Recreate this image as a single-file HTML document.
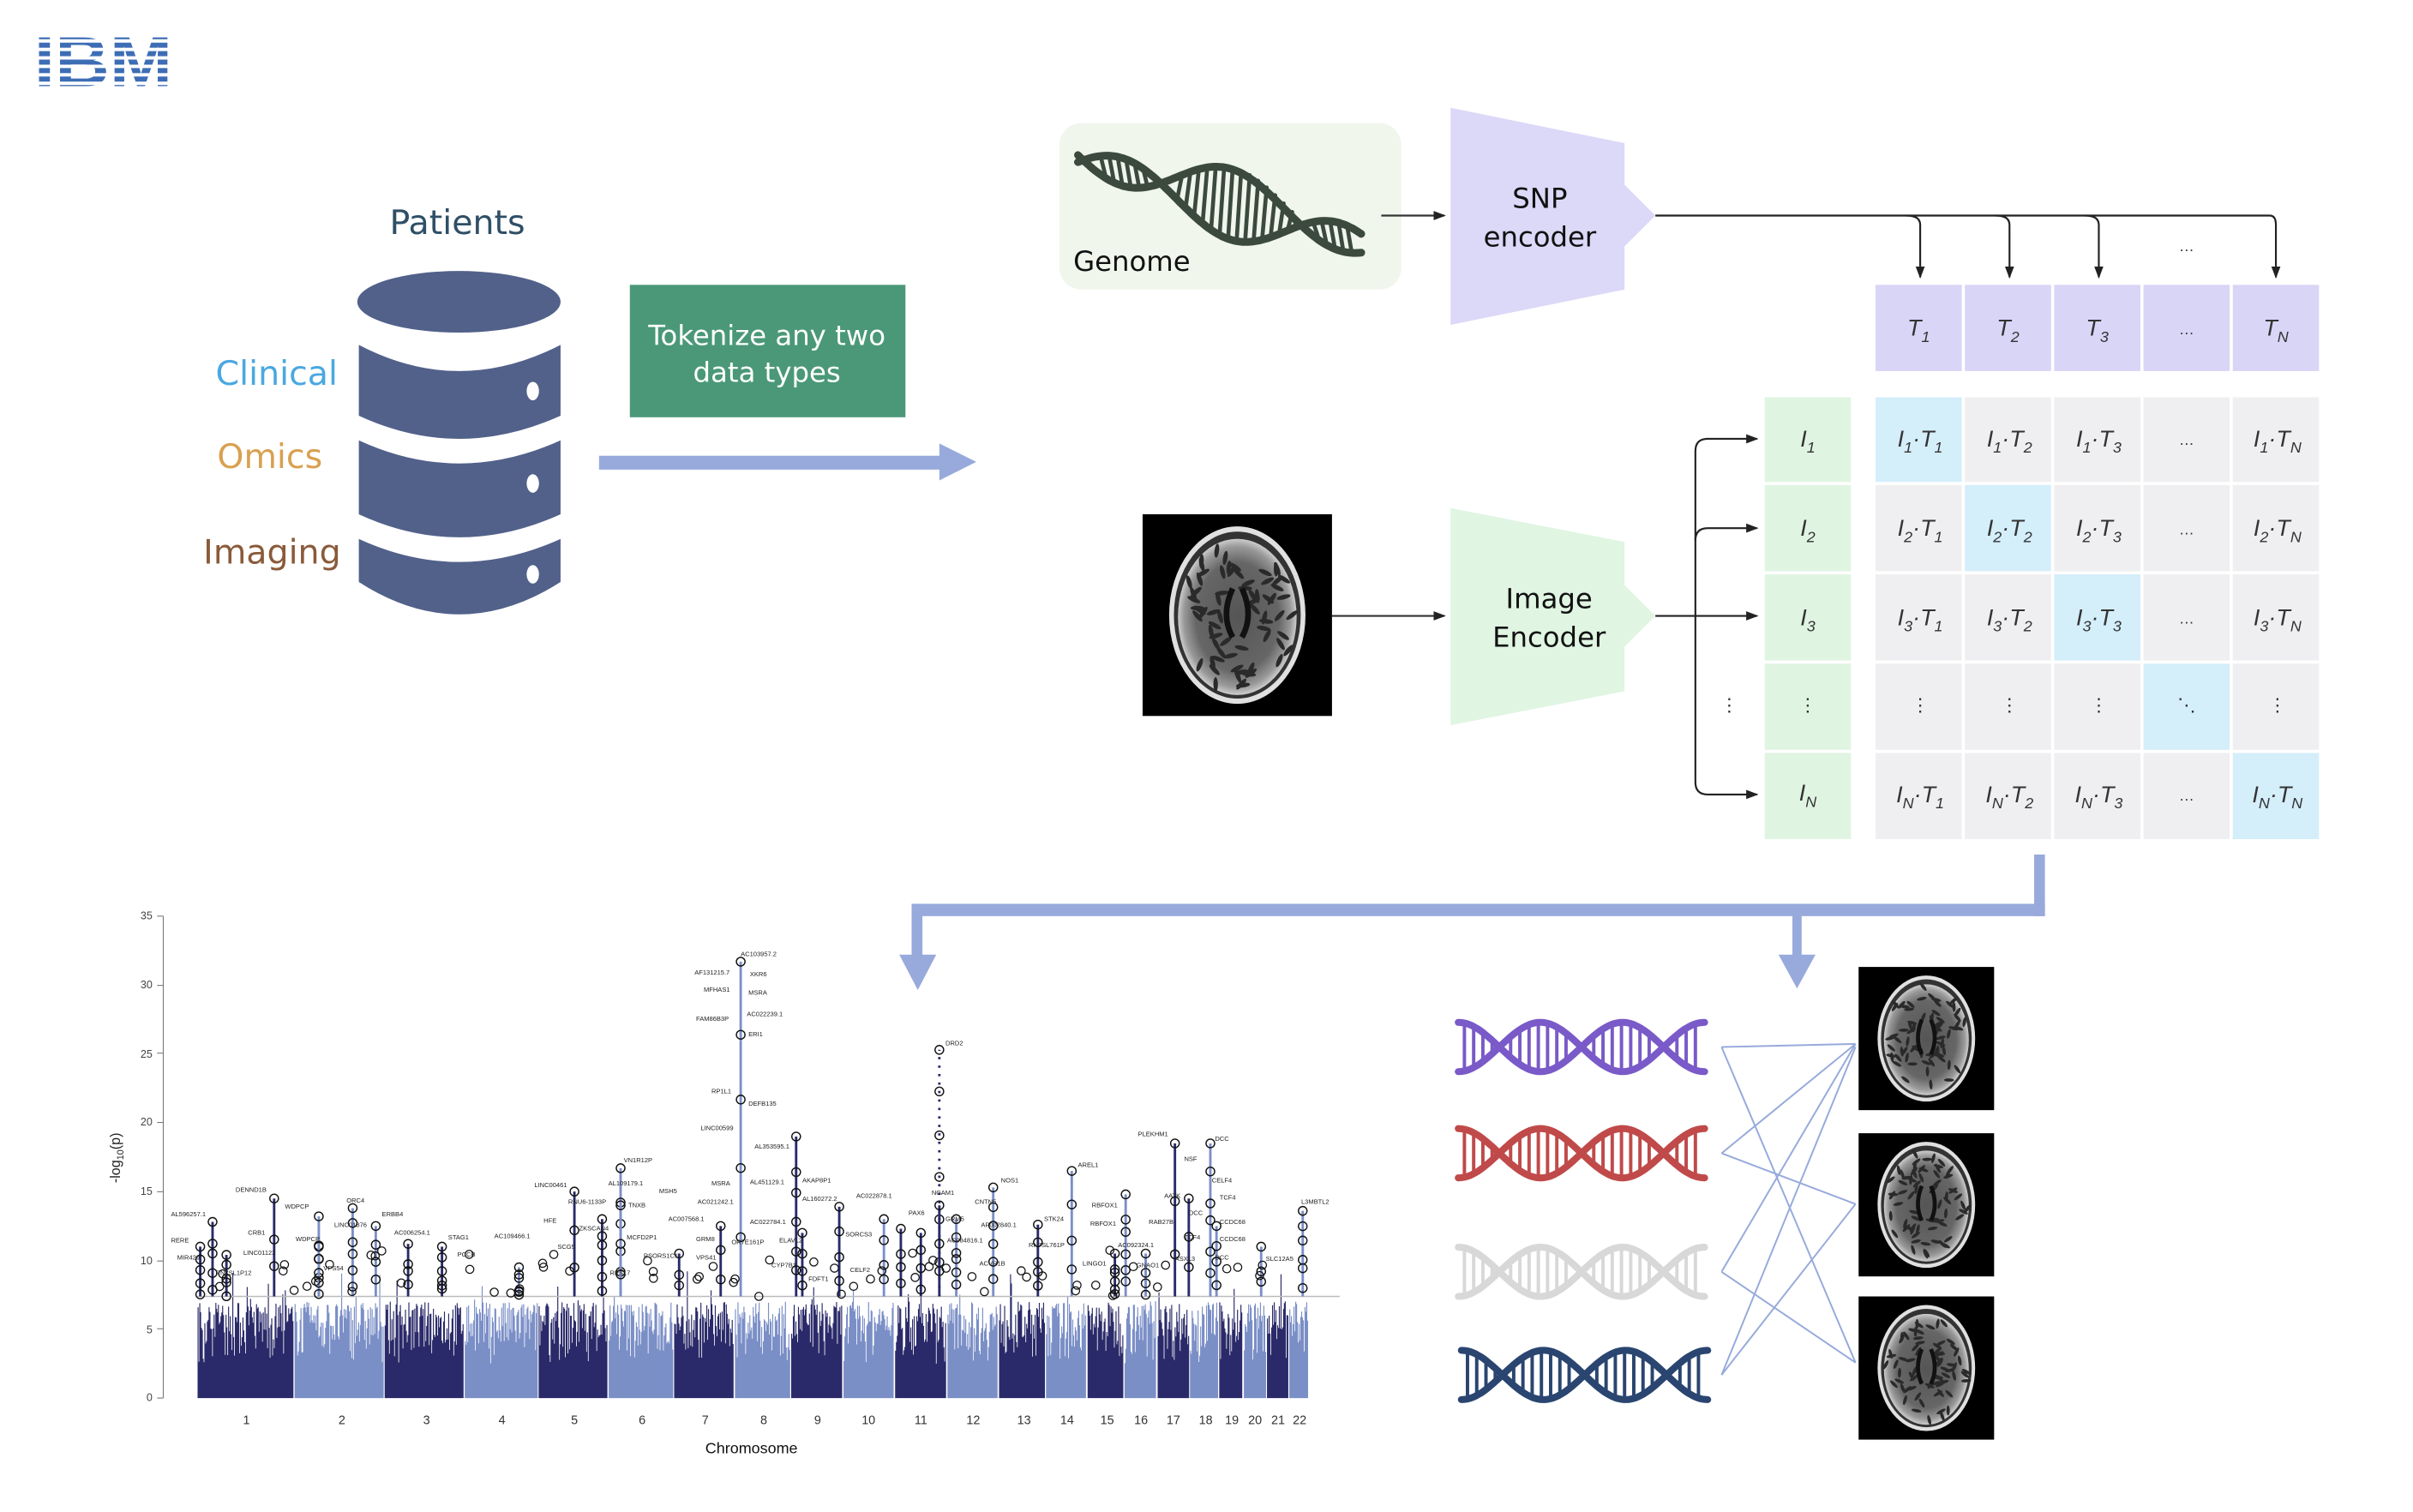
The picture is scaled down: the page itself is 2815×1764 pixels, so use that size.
<!DOCTYPE html>
<html><head><meta charset="utf-8">
<style>
html,body{margin:0;padding:0;background:#fff;}
svg{display:block;}
text{font-family:"Liberation Sans",sans-serif;}
.cal{font-family:"DejaVu Sans","Liberation Sans",sans-serif;}
.m{font-family:"Liberation Serif",serif;font-style:italic;font-size:15px;fill:#333;}
.g{font-size:4.2px;fill:#222;}
</style></head>
<body>
<svg id="s" width="2815" height="1764" viewBox="0 0 1567 982" xmlns="http://www.w3.org/2000/svg">
<defs>
<marker id="ah" markerWidth="8" markerHeight="8" refX="7" refY="4" orient="auto" markerUnits="userSpaceOnUse"><path d="M0,1 L8,4 L0,7 z" fill="#222"/></marker>
<radialGradient id="br" cx="50%" cy="50%" r="50%"><stop offset="0" stop-color="#555"/><stop offset="0.7" stop-color="#666"/><stop offset="0.9" stop-color="#999"/><stop offset="1" stop-color="#ccc"/></radialGradient>
</defs>

<!-- IBM logo -->
<text x="22" y="56" font-family="Liberation Serif,serif" font-weight="bold" font-size="46" fill="#3d6db5" textLength="90" lengthAdjust="spacingAndGlyphs">IBM</text>
<g fill="#fff"><rect x="18" y="25.5" width="100" height="2.2"/><rect x="18" y="31" width="100" height="2.2"/><rect x="18" y="36.5" width="100" height="2.2"/><rect x="18" y="42" width="100" height="2.2"/><rect x="18" y="47.5" width="100" height="2.2"/><rect x="18" y="53" width="100" height="2.2"/></g>

<!-- Patients -->
<text x="297" y="152" text-anchor="middle" font-size="22" fill="#2f4f66" class="cal">Patients</text>
<g fill="#52618a">
<ellipse cx="298" cy="196" rx="66" ry="20"/>
<path d="M233,224 Q298,258 364,224 L364,270 Q298,300 233,270 Z"/>
<path d="M233,286 Q298,316 364,286 L364,334 Q298,364 233,334 Z"/>
<path d="M233,350 Q298,380 364,350 L364,378 Q298,420 233,378 Z"/>
</g>
<g fill="#fff"><ellipse cx="346" cy="254" rx="4" ry="6"/><ellipse cx="346" cy="314" rx="4" ry="6"/><ellipse cx="346" cy="373" rx="4" ry="6"/></g>
<text x="140" y="250" font-size="22" fill="#4aa8e0" class="cal">Clinical</text>
<text x="141" y="304" font-size="22" fill="#d9a050" class="cal">Omics</text>
<text x="132" y="366" font-size="22" fill="#8a5a3a" class="cal">Imaging</text>

<rect x="409" y="185" width="179" height="86" fill="#4a9878"/>
<text x="498" y="224" text-anchor="middle" font-size="18" fill="#fff" class="cal">Tokenize any two</text>
<text x="498" y="248" text-anchor="middle" font-size="18" fill="#fff" class="cal">data types</text>
<rect x="389" y="296" width="222" height="9" fill="#97aadb"/>
<path d="M610,288 L634,300 L610,312 Z" fill="#97aadb"/>

<!-- Genome -->
<rect x="688" y="80" width="222" height="108" rx="14" fill="#f0f6ec"/>
<g id="gdna" stroke="#3c4a3e" fill="none" stroke-linecap="round"></g>
<text x="697" y="176" font-size="18" fill="#111" class="cal">Genome</text>
<line x1="897" y1="140" x2="938" y2="140" stroke="#333" stroke-width="1.2" marker-end="url(#ah)"/>

<!-- SNP encoder -->
<path d="M942,70 L1055,93 L1055,120 L1075,140 L1055,160 L1055,188 L942,211 Z" fill="#dcd8f8"/>
<text x="1000" y="135" text-anchor="middle" font-size="18" fill="#111" class="cal">SNP</text>
<text x="1000" y="160" text-anchor="middle" font-size="18" fill="#111" class="cal">encoder</text>
<g stroke="#222" stroke-width="1.2" fill="none">
<path d="M1075,140 L1474,140 Q1478,140 1478,146 L1478,180" marker-end="url(#ah)"/>
<path d="M1238,140 Q1247,140 1247,146 L1247,180" marker-end="url(#ah)"/>
<path d="M1296,140 Q1305,140 1305,146 L1305,180" marker-end="url(#ah)"/>
<path d="M1354,140 Q1363,140 1363,146 L1363,180" marker-end="url(#ah)"/>
</g>
<text x="1420" y="163" text-anchor="middle" font-size="10" fill="#333">…</text>

<!-- T row -->
<g fill="#d9d5f7">
<rect x="1218" y="185" width="56" height="56"/><rect x="1276" y="185" width="56" height="56"/><rect x="1334" y="185" width="56" height="56"/><rect x="1392" y="185" width="56" height="56"/><rect x="1450" y="185" width="56" height="56"/>
</g>
<g class="m" text-anchor="middle">
<text x="1246" y="218">T<tspan font-size="10" dy="4">1</tspan></text>
<text x="1304" y="218">T<tspan font-size="10" dy="4">2</tspan></text>
<text x="1362" y="218">T<tspan font-size="10" dy="4">3</tspan></text>
<text x="1420" y="217" font-style="normal" font-size="10">…</text>
<text x="1478" y="218">T<tspan font-size="10" dy="4">N</tspan></text>
</g>

<!-- I column & matrix -->
<g fill="#e0f4e2">
<rect x="1146" y="258" width="56" height="55"/><rect x="1146" y="315" width="56" height="56"/><rect x="1146" y="373" width="56" height="56"/><rect x="1146" y="431" width="56" height="56"/><rect x="1146" y="489" width="56" height="56"/>
</g>
<g id="mat"></g>
<g class="m" text-anchor="middle">
<text x="1174" y="290">I<tspan font-size="10" dy="4">1</tspan></text>
<text x="1174" y="348">I<tspan font-size="10" dy="4">2</tspan></text>
<text x="1174" y="406">I<tspan font-size="10" dy="4">3</tspan></text>
<text x="1174" y="462" font-style="normal" font-size="12">⋮</text>
<text x="1174" y="520">I<tspan font-size="10" dy="4">N</tspan></text>
<text x="1123" y="462" font-style="normal" font-size="12">⋮</text>

<text x="1247" y="290">I<tspan font-size="10" dy="4">1</tspan><tspan dy="-4">·T</tspan><tspan font-size="10" dy="4">1</tspan></text>
<text x="1305" y="290">I<tspan font-size="10" dy="4">1</tspan><tspan dy="-4">·T</tspan><tspan font-size="10" dy="4">2</tspan></text>
<text x="1363" y="290">I<tspan font-size="10" dy="4">1</tspan><tspan dy="-4">·T</tspan><tspan font-size="10" dy="4">3</tspan></text>
<text x="1420" y="289" font-style="normal" font-size="10">…</text>
<text x="1479" y="290">I<tspan font-size="10" dy="4">1</tspan><tspan dy="-4">·T</tspan><tspan font-size="10" dy="4">N</tspan></text>

<text x="1247" y="348">I<tspan font-size="10" dy="4">2</tspan><tspan dy="-4">·T</tspan><tspan font-size="10" dy="4">1</tspan></text>
<text x="1305" y="348">I<tspan font-size="10" dy="4">2</tspan><tspan dy="-4">·T</tspan><tspan font-size="10" dy="4">2</tspan></text>
<text x="1363" y="348">I<tspan font-size="10" dy="4">2</tspan><tspan dy="-4">·T</tspan><tspan font-size="10" dy="4">3</tspan></text>
<text x="1420" y="347" font-style="normal" font-size="10">…</text>
<text x="1479" y="348">I<tspan font-size="10" dy="4">2</tspan><tspan dy="-4">·T</tspan><tspan font-size="10" dy="4">N</tspan></text>

<text x="1247" y="406">I<tspan font-size="10" dy="4">3</tspan><tspan dy="-4">·T</tspan><tspan font-size="10" dy="4">1</tspan></text>
<text x="1305" y="406">I<tspan font-size="10" dy="4">3</tspan><tspan dy="-4">·T</tspan><tspan font-size="10" dy="4">2</tspan></text>
<text x="1363" y="406">I<tspan font-size="10" dy="4">3</tspan><tspan dy="-4">·T</tspan><tspan font-size="10" dy="4">3</tspan></text>
<text x="1420" y="405" font-style="normal" font-size="10">…</text>
<text x="1479" y="406">I<tspan font-size="10" dy="4">3</tspan><tspan dy="-4">·T</tspan><tspan font-size="10" dy="4">N</tspan></text>

<text x="1247" y="462" font-style="normal" font-size="12">⋮</text>
<text x="1305" y="462" font-style="normal" font-size="12">⋮</text>
<text x="1363" y="462" font-style="normal" font-size="12">⋮</text>
<text x="1420" y="462" font-style="normal" font-size="12">⋱</text>
<text x="1479" y="462" font-style="normal" font-size="12">⋮</text>

<text x="1247" y="521">I<tspan font-size="10" dy="4">N</tspan><tspan dy="-4">·T</tspan><tspan font-size="10" dy="4">1</tspan></text>
<text x="1305" y="521">I<tspan font-size="10" dy="4">N</tspan><tspan dy="-4">·T</tspan><tspan font-size="10" dy="4">2</tspan></text>
<text x="1363" y="521">I<tspan font-size="10" dy="4">N</tspan><tspan dy="-4">·T</tspan><tspan font-size="10" dy="4">3</tspan></text>
<text x="1420" y="520" font-style="normal" font-size="10">…</text>
<text x="1479" y="521">I<tspan font-size="10" dy="4">N</tspan><tspan dy="-4">·T</tspan><tspan font-size="10" dy="4">N</tspan></text>
</g>

<!-- brain input -->
<g id="b0"></g>
<line x1="865" y1="400" x2="938" y2="400" stroke="#333" stroke-width="1.2" marker-end="url(#ah)"/>
<path d="M942,330 L1055,352 L1055,380 L1075,400 L1055,420 L1055,449 L942,471 Z" fill="#e0f5e2"/>
<text x="1006" y="395" text-anchor="middle" font-size="18" fill="#111" class="cal">Image</text>
<text x="1006" y="420" text-anchor="middle" font-size="18" fill="#111" class="cal">Encoder</text>
<g stroke="#222" stroke-width="1.2" fill="none">
<line x1="1075" y1="400" x2="1141" y2="400" marker-end="url(#ah)"/>
<path d="M1109,285 Q1101,285 1101,293 L1101,508 Q1101,516 1109,516 L1141,516" marker-end="url(#ah)"/>
<line x1="1108" y1="285" x2="1141" y2="285" marker-end="url(#ah)"/>
<path d="M1101,351 Q1101,343 1109,343 L1141,343" marker-end="url(#ah)"/>
</g>

<!-- big connector -->
<g fill="#97aadb">
<rect x="1321" y="555" width="7" height="40"/>
<rect x="592" y="587" width="736" height="8"/>
<rect x="592" y="587" width="7" height="35"/>
<path d="M584,620 L608,620 L596,643 Z"/>
<rect x="1164" y="592" width="6" height="30"/>
<path d="M1155,620 L1179,620 L1167,642 Z"/>
</g>

<!-- Manhattan plot -->
<g id="man"></g>
<g font-size="7" fill="#444" text-anchor="end">
<text x="99" y="910">0</text><text x="99" y="866">5</text><text x="99" y="821">10</text><text x="99" y="776">15</text><text x="99" y="731">20</text><text x="99" y="687">25</text><text x="99" y="642">30</text><text x="99" y="597">35</text>
</g>
<g stroke="#777" stroke-width="0.6"><line x1="106" y1="595" x2="106" y2="908"/>
<line x1="102" y1="908" x2="106" y2="908"/><line x1="102" y1="863" x2="106" y2="863"/><line x1="102" y1="819" x2="106" y2="819"/><line x1="102" y1="774" x2="106" y2="774"/><line x1="102" y1="729" x2="106" y2="729"/><line x1="102" y1="684" x2="106" y2="684"/><line x1="102" y1="640" x2="106" y2="640"/><line x1="102" y1="595" x2="106" y2="595"/></g>
<text transform="translate(78,752) rotate(-90)" text-anchor="middle" font-size="9" fill="#222">-log<tspan font-size="6" dy="2">10</tspan><tspan dy="-2">(p)</tspan></text>
<g font-size="8" fill="#333" text-anchor="middle">
<text x="160" y="925">1</text><text x="222" y="925">2</text><text x="277" y="925">3</text><text x="326" y="925">4</text><text x="373" y="925">5</text><text x="417" y="925">6</text><text x="458" y="925">7</text><text x="496" y="925">8</text><text x="531" y="925">9</text><text x="564" y="925">10</text><text x="598" y="925">11</text><text x="632" y="925">12</text><text x="665" y="925">13</text><text x="693" y="925">14</text><text x="719" y="925">15</text><text x="741" y="925">16</text><text x="762" y="925">17</text><text x="783" y="925">18</text><text x="800" y="925">19</text><text x="815" y="925">20</text><text x="830" y="925">21</text><text x="844" y="925">22</text>
</g>
<text x="488" y="944" text-anchor="middle" font-size="10" fill="#111">Chromosome</text>
<g class="g">
<text x="481" y="621">AC103957.2</text><text x="451" y="633">AF131215.7</text><text x="487" y="634">XKR6</text><text x="457" y="644">MFHAS1</text><text x="486" y="646">MSRA</text><text x="485" y="660">AC022239.1</text><text x="452" y="663">FAM86B3P</text><text x="486" y="673">ERI1</text><text x="462" y="710">RP1L1</text><text x="486" y="718">DEFB135</text><text x="455" y="734">LINC00599</text><text x="490" y="746">AL353595.1</text><text x="614" y="679">DRD2</text><text x="462" y="770">MSRA</text><text x="487" y="769">AL451129.1</text><text x="521" y="768">AKAP8P1</text><text x="453" y="782">AC021242.1</text><text x="521" y="780">AL160272.2</text><text x="556" y="778">AC022878.1</text><text x="605" y="776">NCAM1</text><text x="633" y="782">CNTN5</text><text x="650" y="768">NOS1</text><text x="700" y="758">AREL1</text><text x="405" y="755">VN1R12P</text><text x="347" y="771">LINC00461</text><text x="395" y="770">AL109179.1</text><text x="428" y="775">MSH5</text><text x="153" y="774">DENND1B</text><text x="185" y="785">WDPCP</text><text x="225" y="781">ORC4</text><text x="248" y="790">ERBB4</text><text x="111" y="790">AL596257.1</text><text x="161" y="802">CRB1</text><text x="192" y="806">WDPCP</text><text x="217" y="797">LINC01876</text><text x="256" y="802">AC006254.1</text><text x="291" y="805">STAG1</text><text x="297" y="816">PCCB</text><text x="111" y="807">RERE</text><text x="115" y="818">MIR429</text><text x="158" y="815">LINC01122</text><text x="140" y="828">RN7SL1P12</text><text x="210" y="825">VPS54</text><text x="353" y="794">HFE</text><text x="369" y="782">RNU6-1133P</text><text x="408" y="784">TNXB</text><text x="376" y="799">ZKSCAN4</text><text x="407" y="805">MCFD2P1</text><text x="321" y="804">AC109466.1</text><text x="434" y="793">AC007568.1</text><text x="418" y="817">PSORS1C1</text><text x="452" y="806">GRM8</text><text x="475" y="808">OR7E161P</text><text x="452" y="818">VPS41</text><text x="487" y="795">AC022784.1</text><text x="506" y="807">ELAVL2</text><text x="549" y="803">SORCS3</text><text x="590" y="789">PAX6</text><text x="614" y="793">GRM5</text><text x="637" y="797">AP002840.1</text><text x="615" y="807">AC084816.1</text><text x="678" y="793">STK24</text><text x="668" y="810">RN7SL761P</text><text x="709" y="784">RBFOX1</text><text x="708" y="796">RBFOX1</text><text x="703" y="822">LINGO1</text><text x="726" y="810">AC092324.1</text><text x="738" y="823">GNAO1</text><text x="739" y="738">PLEKHM1</text><text x="789" y="741">DCC</text><text x="769" y="754">NSF</text><text x="787" y="768">CELF4</text><text x="756" y="778">AATK</text><text x="792" y="779">TCF4</text><text x="772" y="789">DCC</text><text x="746" y="795">RAB27B</text><text x="792" y="795">CCDC68</text><text x="769" y="805">TCF4</text><text x="792" y="806">CCDC68</text><text x="763" y="819">ASXL3</text><text x="789" y="818">DCC</text><text x="822" y="819">SLC12A5</text><text x="845" y="782">L3MBTL2</text><text x="552" y="826">CELF2</text><text x="501" y="823">CYP7B1</text><text x="525" y="832">FDFT1</text><text x="636" y="822">ACVR1B</text><text x="396" y="828">RPS17</text><text x="362" y="811">SCG5</text>
</g>

<!-- right side: DNA icons + brains -->
<g id="dnas"></g>
<g id="cross" stroke="#97aadb" stroke-width="1.1" fill="none">
<line x1="1118" y1="680" x2="1205" y2="678"/><line x1="1118" y1="680" x2="1205" y2="885"/>
<line x1="1118" y1="749" x2="1205" y2="678"/><line x1="1118" y1="749" x2="1205" y2="782"/>
<line x1="1118" y1="826" x2="1205" y2="678"/><line x1="1118" y1="826" x2="1205" y2="885"/>
<line x1="1118" y1="893" x2="1205" y2="782"/><line x1="1118" y1="893" x2="1205" y2="680"/>
</g>
<g id="brains"></g>
</svg>
<script>
(function(){
var NS="http://www.w3.org/2000/svg";
function el(t,a,p){var e=document.createElementNS(NS,t);for(var k in a)e.setAttribute(k,a[k]);(p||document.getElementById('s')).appendChild(e);return e;}
var seed=7;function rnd(){seed=(seed*16807)%2147483647;return (seed-1)/2147483646;}

var mat=document.getElementById('mat');
var cols=[1218,1276,1334,1392,1450],rows=[258,315,373,431,489];
for(var r=0;r<5;r++)for(var c=0;c<5;c++){
 el('rect',{x:cols[c],y:rows[r],width:56,height:(r==0?55:56),fill:(r==c?'#d4eefa':'#efeff1')},mat);
}

function brain(x,y,w,h,p){
 var g=el('g',{},p);
 el('rect',{x:x,y:y,width:w,height:h,fill:'#000'},g);
 var cx=x+w/2,cy=y+h/2,rx=w*0.36,ry=h*0.44;
 el('ellipse',{cx:cx,cy:cy,rx:rx,ry:ry,fill:'#e0e0e0'},g);
 el('ellipse',{cx:cx,cy:cy,rx:rx*0.93,ry:ry*0.94,fill:'#333'},g);
 el('ellipse',{cx:cx,cy:cy+ry*0.02,rx:rx*0.87,ry:ry*0.88,fill:'url(#br)'},g);
 for(var i=0;i<70;i++){var a=rnd()*6.28,d=0.25+rnd()*0.6;var px=cx+Math.cos(a)*rx*d,py=cy+Math.sin(a)*ry*d;
  el('ellipse',{cx:px,cy:py,rx:w*0.012,ry:h*0.035,transform:'rotate('+(rnd()*180)+' '+px+' '+py+')',fill:'#2a2a2a'},g);}
 el('path',{d:'M'+(cx-3)+','+(cy-ry*0.3)+' Q'+(cx-rx*0.25)+','+cy+' '+(cx-3)+','+(cy+ry*0.25)+' M'+(cx+3)+','+(cy-ry*0.3)+' Q'+(cx+rx*0.25)+','+cy+' '+(cx+3)+','+(cy+ry*0.25),stroke:'#111','stroke-width':w*0.03,fill:'none'},g);
}
brain(742,334,123,131,document.getElementById('b0'));
var bs=document.getElementById('brains');
brain(1207,628,88,93,bs);brain(1207,736,88,93,bs);brain(1207,842,88,93,bs);

function dna(x0,cy,w,h,col,p){
 var g=el('g',{stroke:col,fill:'none','stroke-linecap':'round'},p);
 var per=w/1.5,A=h/2,d1='',d2='';
 for(var i=0;i<=100;i++){var x=x0+w*i/100,ph=2*Math.PI*(x-x0)/per+Math.PI/2;
  d1+=(i?'L':'M')+x.toFixed(1)+','+(cy-A*Math.sin(ph)).toFixed(1);
  d2+=(i?'L':'M')+x.toFixed(1)+','+(cy+A*Math.sin(ph)).toFixed(1);}
 el('path',{d:d1,'stroke-width':4.5},g);el('path',{d:d2,'stroke-width':4.5},g);
 for(var x=x0+4;x<x0+w-2;x+=6){var ph=2*Math.PI*(x-x0)/per+Math.PI/2,s=A*Math.sin(ph);
  if(Math.abs(s)>4)el('line',{x1:x,y1:cy-s*0.85,x2:x,y2:cy+s*0.85,'stroke-width':2.2},g);}
}
var ds=document.getElementById('dnas');
dna(947,680,160,32,'#7a5ac8',ds);dna(947,749,160,32,'#c04a4a',ds);dna(947,826,160,32,'#d8d8d8',ds);dna(949,893,160,32,'#2a4570',ds);

var gd=document.getElementById('gdna');
(function(){var d1='',d2='';var x0=700,x1=884;
 for(var i=0;i<=100;i++){var t=i/100,x=x0+(x1-x0)*t,base=100+t*55,ph=t*Math.PI*2.6+0.3;
  d1+=(i?'L':'M')+x.toFixed(1)+','+(base-16*Math.sin(ph)+10).toFixed(1);
  d2+=(i?'L':'M')+x.toFixed(1)+','+(base+16*Math.sin(ph)-4).toFixed(1);}
 el('path',{d:d1,'stroke-width':5},gd);el('path',{d:d2,'stroke-width':5},gd);
 for(var i=2;i<98;i+=3){var t=i/100,x=x0+(x1-x0)*t,base=100+t*55,ph=t*Math.PI*2.6+0.3;
  var a=base-16*Math.sin(ph)+10,b=base+16*Math.sin(ph)-4;if(Math.abs(a-b)>8)el('line',{x1:x,y1:a,x2:x+3,y2:b,'stroke-width':2.6},gd);}
})();

var man=document.getElementById('man');
var centers=[160,222,277,326,373,417,458,496,531,564,598,632,665,693,719,741,762,783,800,815,830,844];
var bounds=[128];for(var i=0;i<21;i++)bounds.push((centers[i]+centers[i+1])/2);bounds.push(850);
var Y0=908,U=8.94;
for(var c=0;c<22;c++){var col=c%2?'#7b8fc7':'#2a2a6a';
 var path='';
 for(var x=bounds[c]+0.6;x<bounds[c+1]-0.6;x+=0.55){
  var h=2.5+4.5*Math.pow(rnd(),0.6); if(rnd()<0.08)h+=rnd()*2.5;
  path+='M'+x.toFixed(2)+','+Y0+'V'+(Y0-h*U).toFixed(1);
 }
 el('path',{d:path,stroke:col,'stroke-width':0.65},man);
}
el('line',{x1:128,y1:842,x2:870,y2:842,stroke:'#bbb','stroke-width':0.8},man);
var peaks=[[130,11],[138,12.8],[147,10.4],[178,14.5],[207,13.2],[207,11],[229,13.8],[244,12.5],[265,11.2],[287,11],[337,9.5],[373,15],[391,13],[403,16.7],[403,14],[441,10.5],[468,12.5],[481,31.7],[517,19],[521,12],[545,13.9],[574,13],[585,12.3],[598,12],[610,25.3],[610,14],[621,13],[645,15.3],[674,12.6],[696,16.5],[731,14.8],[724,10.5],[744,10.5],[763,18.5],[772,14.5],[786,18.5],[790,12.5],[819,11],[846,13.6]];
peaks.forEach(function(p){var x=p[0],top=Y0-p[1]*U;
 var ci=0;for(var i=0;i<22;i++)if(x>=bounds[i])ci=i;var col=ci%2?'#7b8fc7':'#2a2a6a';
 el('line',{x1:x,y1:842,x2:x,y2:top,stroke:col,'stroke-width':1.6,'stroke-dasharray':(p[1]>24&&x>600)?'1.5,4':'none'},man);
 var n=3+Math.floor(rnd()*4);
 for(var k=0;k<n;k++){var yy=top+(842-top)*(k/(n))*(k?1:0)+(k?rnd()*6:0);
  el('circle',{cx:x,cy:yy,r:2.8,fill:'none',stroke:'#111','stroke-width':0.8},man);}
});
for(var i=0;i<60;i++){var x=130+rnd()*716;var y=842-rnd()*30;el('circle',{cx:x,cy:y,r:2.6,fill:'none',stroke:'#111','stroke-width':0.7},man);}
})();
</script>
</body></html>
